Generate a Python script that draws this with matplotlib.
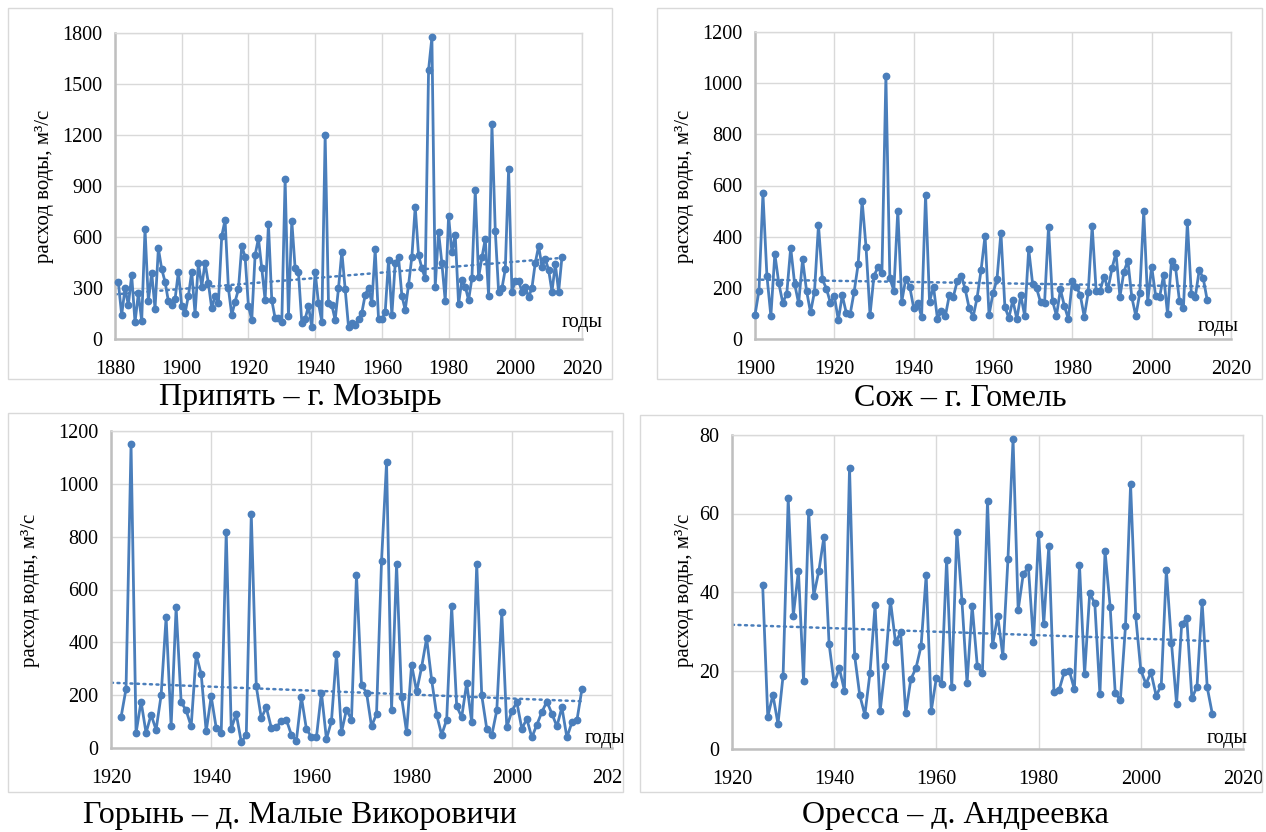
import numpy as np
import matplotlib
matplotlib.use("Agg")
import matplotlib.pyplot as plt
from matplotlib.patches import Rectangle
from matplotlib.transforms import Bbox, TransformedBbox

# ---------------- data ----------------
pripyat_start = 1881
pripyat_vals = [333, 141, 298, 200, 376, 98, 268, 106, 647, 223,
                390, 178, 533, 412, 337, 223, 198, 233, 396, 194,
                151, 253, 396, 147, 449, 308, 449, 327, 180, 255,
                210, 606, 700, 298, 141, 220, 292, 547, 484, 194,
                112, 494, 592, 416, 229, 676, 229, 122, 122, 98,
                941, 135, 696, 416, 392, 96, 118, 194, 69, 396,
                210, 102, 1200, 210, 200, 112, 298, 514, 292, 73,
                92, 82, 116, 155, 259, 302, 210, 527, 118, 118,
                157, 465, 141, 445, 480, 255, 171, 318, 484, 778,
                494, 416, 357, 1582, 1774, 308, 631, 445, 223, 723,
                510, 612, 206, 347, 308, 229, 357, 876, 363, 480,
                588, 255, 1262, 637, 278, 298, 410, 1000, 278, 343,
                343, 278, 308, 245, 302, 449, 547, 425, 470, 406,
                278, 441, 278, 484]

sozh_start = 1900
sozh_vals = [94, 189, 569, 248, 90, 332, 218, 142, 176, 357,
             215, 139, 311, 188, 104, 185, 446, 233, 197, 142,
             168, 74, 171, 103, 98, 185, 292, 541, 358, 94,
             248, 280, 257, 1028, 237, 189, 502, 146, 235, 205,
             122, 142, 87, 563, 146, 205, 78, 109, 91, 172,
             165, 227, 248, 194, 120, 87, 162, 270, 404, 94,
             179, 233, 416, 124, 83, 152, 78, 171, 90, 351,
             214, 198, 143, 142, 439, 149, 91, 194, 129, 78,
             228, 205, 172, 87, 182, 442, 189, 189, 244, 195,
             276, 337, 165, 263, 306, 163, 90, 179, 500, 146,
             283, 169, 163, 250, 98, 306, 283, 149, 120, 456,
             176, 165, 270, 237, 152]

goryn_start = 1922
goryn_vals = [116, 224, 1149, 57, 176, 57, 126, 69, 199, 495,
              82, 532, 174, 142, 82, 353, 280, 63, 195, 76,
              57, 819, 73, 129, 23, 48, 886, 233, 113, 154,
              76, 78, 103, 107, 50, 28, 193, 72, 42, 40,
              210, 34, 101, 357, 59, 145, 107, 655, 239, 210,
              82, 129, 708, 1081, 145, 696, 192, 60, 316, 214,
              306, 416, 258, 126, 50, 107, 536, 158, 117, 246,
              97, 697, 199, 73, 48, 142, 514, 79, 139, 174,
              73, 110, 40, 88, 136, 176, 130, 82, 154, 40,
              97, 105, 223]

oressa_start = 1926
oressa_vals = [41.8, 8.2, 13.8, 6.4, 18.7, 63.9, 34.0, 45.4, 17.4, 60.4,
               39.1, 45.4, 54.1, 26.8, 16.6, 20.6, 14.9, 71.7, 23.8, 13.7,
               8.7, 19.3, 36.6, 9.8, 21.1, 37.8, 27.2, 29.7, 9.1, 17.8,
               20.6, 26.2, 44.3, 9.8, 18.2, 16.6, 48.2, 15.7, 55.4, 37.7,
               16.7, 36.5, 21.2, 19.3, 63.2, 26.5, 33.9, 23.7, 48.3, 79.0,
               35.4, 44.6, 46.3, 27.3, 54.9, 31.8, 51.7, 14.6, 15.0, 19.5,
               20.0, 15.2, 46.9, 19.0, 39.7, 37.1, 13.9, 50.4, 36.3, 14.2,
               12.5, 31.3, 67.4, 33.9, 20.1, 16.6, 19.5, 13.6, 16.1, 45.6,
               27.1, 11.5, 31.8, 33.3, 12.9, 15.9, 37.5, 15.7, 8.9]

titles = ["Припять – г. Мозырь", "Сож – г. Гомель",
          "Горынь – д. Малые Викоровичи", "Оресса – д. Андреевка"]
ylabel = "расход воды, м³/с"
xlabel_text = "годы"

# ---------------- figure ----------------
W, H = 1266, 832
plt.rcParams['font.family'] = ['Liberation Serif', 'DejaVu Serif']
fig = plt.figure(figsize=(W / 100, H / 100), dpi=100)
fig.patch.set_facecolor('white')

BLUE = '#4a7ebb'
GRID = '#d9d9d9'
AXC = '#bfbfbf'


def fx(x):
    return x / W


def fy(y):
    return 1 - y / H


def frame(l, t, r, b):
    fig.add_artist(Rectangle((fx(l), fy(b)), fx(r) - fx(l), fy(t) - fy(b),
                             transform=fig.transFigure, fill=False,
                             edgecolor=GRID, linewidth=1.0))


def make_panel(box, start, vals, xlim, xstep, ylim, ystep,
               ylab_pos, godi_pos, title_pos, title, clip=None):
    l, t, r, b = box
    ax = fig.add_axes([fx(l), fy(b), fx(r) - fx(l), fy(t) - fy(b)])
    years = np.arange(start, start + len(vals))
    v = np.array(vals, dtype=float)
    ax.plot(years, v, color=BLUE, lw=2.0, marker='o', ms=4.6,
            mfc=BLUE, mec=BLUE, zorder=3, clip_on=False)
    k, c = np.polyfit(years, v, 1)
    tx = np.array([xlim[0], years[-1]])
    ax.plot(tx, k * tx + c, color=BLUE, lw=1.8, ls=(0, (0.8, 1.8)),
            dash_capstyle='round', zorder=2)
    ax.set_xlim(*xlim)
    ax.set_ylim(*ylim)
    ax.set_xticks(np.arange(xlim[0], xlim[1] + 1, xstep))
    ax.set_yticks(np.arange(ylim[0], ylim[1] + 1e-9, ystep))
    ax.grid(True, color=GRID, lw=1.0, zorder=0)
    ax.set_axisbelow(True)
    for s in ('top', 'right'):
        ax.spines[s].set_color(GRID)
        ax.spines[s].set_linewidth(1.0)
    for s in ('left', 'bottom'):
        ax.spines[s].set_color(AXC)
        ax.spines[s].set_linewidth(1.8)
    ax.tick_params(length=0, labelsize=14.5, colors='black')
    ax.tick_params(axis='x', pad=15)
    ax.tick_params(axis='y', pad=9)
    if clip is not None:
        cb = TransformedBbox(Bbox([[fx(clip[0]), fy(clip[3])],
                                   [fx(clip[2]), fy(clip[1])]]),
                             fig.transFigure)
        for lbl in ax.get_xticklabels():
            lbl.set_clip_box(cb)
            lbl.set_clip_on(True)
    fig.text(fx(ylab_pos[0]), fy(ylab_pos[1]), ylabel, rotation=90,
             ha='center', va='center', fontsize=15)
    g = fig.text(fx(godi_pos[0]), fy(godi_pos[1]), xlabel_text,
                 ha='center', va='center', fontsize=14.5)
    if clip is not None:
        cb2 = TransformedBbox(Bbox([[fx(clip[0]), fy(clip[3])],
                                    [fx(clip[2]), fy(clip[1])]]),
                              fig.transFigure)
        g.set_clip_box(cb2)
        g.set_clip_on(True)
    fig.text(fx(title_pos[0]), fy(title_pos[1]), title,
             ha='center', va='center', fontsize=23)
    return ax


# panel frames
frame(8, 8, 612, 379)
frame(657, 8, 1262, 379)
frame(8, 413, 623, 792)
frame(640, 415, 1262, 792)

make_panel((115, 33, 582, 339), pripyat_start, pripyat_vals,
           (1880, 2020), 20, (0, 1800), 300,
           (45, 186), (582, 323), (300, 398), titles[0])
make_panel((755, 32, 1231, 339), sozh_start, sozh_vals,
           (1900, 2020), 20, (0, 1200), 200,
           (684, 186), (1218, 326), (960, 398), titles[1])
make_panel((111, 431, 612, 748), goryn_start, goryn_vals,
           (1920, 2020), 20, (0, 1200), 200,
           (31, 590), (605, 738), (300, 815), titles[2],
           clip=(8, 413, 623, 792))
make_panel((732, 435, 1243, 749), oressa_start, oressa_vals,
           (1920, 2020), 20, (0, 80), 20,
           (684, 590), (1227, 739), (955, 815), titles[3])

fig.savefig("out.png", dpi=100, facecolor='white')
